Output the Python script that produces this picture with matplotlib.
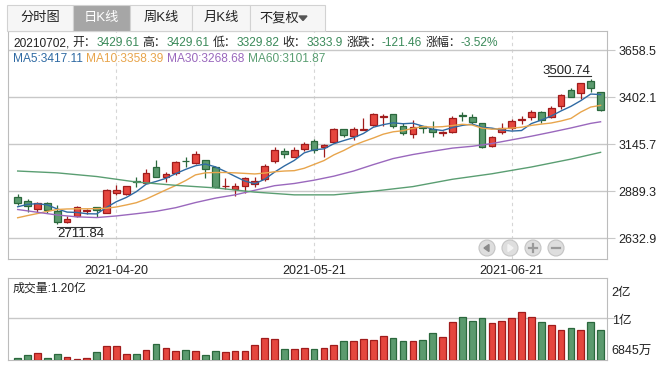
import numpy as np
import matplotlib
matplotlib.use('Agg')
import matplotlib.pyplot as plt
from matplotlib.patches import Rectangle, Circle, Polygon
from matplotlib.transforms import offset_copy

plt.rcParams['font.family'] = ['Liberation Sans', 'Noto Sans CJK SC', 'DejaVu Sans']

# daily K-line, 60 trading days (2021-04-06 .. 2021-07-02)
opens = [2859, 2838, 2791, 2824, 2784, 2720, 2754, 2784, 2802, 2773,
         2882, 2874, 2943, 2936, 3020, 2966, 2988, 3056, 3042, 3060,
         3020, 2918, 2900, 2918, 2928, 2955, 3054, 3109, 3078, 3118,
         3164, 3129, 3157, 3228, 3193, 3224, 3251, 3293, 3309, 3246,
         3200, 3246, 3228, 3209, 3215, 3306, 3296, 3260, 3136, 3211,
         3236, 3280, 3293, 3324, 3293, 3356, 3442, 3424, 3491, 3429.61]
highs = [2874, 2846, 2833, 2831, 2815, 2755, 2809, 2795, 2805, 2902,
         2924, 2921, 2968, 3009, 3060, 2995, 3053, 3078, 3109, 3060,
         3025, 2960, 2933, 2969, 2966, 3037, 3129, 3127, 3129, 3158,
         3173, 3147, 3233, 3231, 3238, 3287, 3315, 3311, 3309, 3260,
         3278, 3246, 3274, 3220, 3298, 3320, 3309, 3260, 3191, 3260,
         3285, 3300, 3333, 3329, 3356, 3420, 3451, 3482, 3500.74, 3429.61]
lows = [2815, 2778, 2778, 2773, 2711.84, 2717, 2751, 2763, 2748, 2769,
        2869, 2869, 2915, 2933, 2966, 2942, 2980, 3023, 3038, 2960,
        2909, 2900, 2864, 2882, 2911, 2946, 3045, 3069, 3075, 3107,
        3097, 3075, 3151, 3184, 3169, 3224, 3247, 3246, 3235, 3196,
        3182, 3206, 3184, 3193, 3207, 3275, 3256, 3124, 3131, 3202,
        3224, 3255, 3278, 3264, 3288, 3340, 3402, 3393, 3433, 3329.82]
closes = [2826, 2809, 2824, 2787, 2720, 2740, 2802, 2787, 2785, 2896,
          2896, 2918, 2940, 2991, 2969, 2984, 3048, 3052, 3091, 3013,
          2911, 2921, 2920, 2960, 2944, 3029, 3115, 3091, 3113, 3147,
          3115, 3140, 3228, 3198, 3228, 3231, 3309, 3300, 3246, 3206,
          3242, 3233, 3211, 3213, 3287, 3302, 3266, 3129, 3186, 3236,
          3273, 3282, 3320, 3278, 3345, 3415, 3405, 3478, 3455.36, 3333.9]
# volume, 亿
volumes = [0.04, 0.11, 0.16, 0.04, 0.135, 0.064, 0.016, 0.04, 0.18, 0.325,
           0.325, 0.135, 0.135, 0.23, 0.373, 0.278, 0.206, 0.23, 0.206, 0.11,
           0.206, 0.18, 0.206, 0.206, 0.349, 0.516, 0.492, 0.254, 0.254, 0.278,
           0.254, 0.278, 0.349, 0.444, 0.444, 0.492, 0.468, 0.564, 0.516, 0.444,
           0.444, 0.468, 0.635, 0.54, 0.897, 1.016, 0.921, 0.992, 0.873, 0.921,
           0.992, 1.135, 1.016, 0.897, 0.825, 0.706, 0.754, 0.706, 0.897, 0.706]

ma5 = [2805, 2818, 2822, 2815, 2793, 2776, 2774, 2767, 2766, 2802,
       2833, 2856, 2887, 2928, 2943, 2960, 2986, 3009, 3029, 3038,
       3023, 2998, 2971, 2945, 2931, 2955, 2994, 3028, 3058, 3099,
       3116, 3121, 3149, 3166, 3182, 3205, 3239, 3253, 3263, 3258,
       3261, 3245, 3228, 3221, 3237, 3249, 3256, 3239, 3234, 3224,
       3218, 3221, 3259, 3278, 3300, 3328, 3353, 3384, 3420, 3417.11]
ma10 = [2745, 2757, 2768, 2780, 2790, 2793, 2794, 2794, 2795, 2797,
        2804, 2815, 2827, 2847, 2872, 2897, 2921, 2948, 2979, 2990,
        2992, 2992, 2990, 2987, 2984, 2989, 2996, 3000, 3002, 3015,
        3036, 3057, 3088, 3112, 3140, 3161, 3180, 3201, 3214, 3220,
        3233, 3242, 3240, 3242, 3248, 3255, 3251, 3234, 3228, 3231,
        3234, 3239, 3249, 3256, 3262, 3273, 3287, 3322, 3349, 3358.39]
ma30_idx = [0, 2, 4, 6, 8, 10, 12, 14, 16, 18, 20, 22, 24, 26, 28, 30,
            32, 34, 36, 38, 40, 42, 44, 46, 48, 50, 52, 54, 56, 58, 59]
ma30 = [2790, 2775, 2760, 2750, 2746, 2755, 2767, 2780, 2800, 2828, 2852,
        2870, 2895, 2920, 2932, 2950, 2972, 3000, 3035, 3068, 3090, 3108,
        3125, 3135, 3150, 3170, 3190, 3212, 3235, 3260, 3268.68]
ma60_idx = [0, 4, 8, 12, 16, 20, 24, 28, 32, 36, 40, 44, 48, 52, 56, 59]
ma60 = [3000, 2990, 2970, 2940, 2922, 2908, 2885, 2870, 2870, 2890, 2915,
        2955, 2985, 3022, 3065, 3101.87]

date_idx = [10, 30, 50]
date_labels = ['2021-04-20', '2021-05-21', '2021-06-21']
price_ticks = [2632.9, 2889.3, 3145.7, 3402.1, 3658.5]
tabs = ['分时图', '日K线', '周K线', '月K线', '不复权']

RED, RED_EDGE = '#e5463e', '#a01c1c'
GREEN, GREEN_EDGE = '#5b9a6e', '#2b683d'
GRID = '#c8c8c8'
SPINE = '#bcbcbc'
INK = '#222222'
VAL_GREEN = '#3b8a5a'
C_MA5, C_MA10, C_MA30, C_MA60 = '#2f6aa3', '#e8a54c', '#9a68bd', '#5a9e72'

W, H = 664, 368
def box(x0, y0, x1, y1):
    return [x0 / W, 1 - y1 / H, (x1 - x0) / W, (y1 - y0) / H]

fig = plt.figure(figsize=(6.64, 3.68), dpi=100)

o = np.array(opens); c = np.array(closes)
hi = np.array(highs); lo = np.array(lows)
x = np.arange(len(o))
up = c >= o
fill = np.where(up, RED, GREEN)
edge = np.where(up, RED_EDGE, GREEN_EDGE)

# ---- price panel
ax = fig.add_axes(box(8, 31, 607, 259))
ax.set_xlim(-0.98, 59.65)
ax.set_ylim(2520, 3764)
ax.vlines(x, lo, hi, colors=edge, lw=0.9, zorder=3)
ax.bar(x, np.maximum(np.abs(c - o), 1.0), bottom=np.minimum(o, c), width=0.68,
       color=fill, edgecolor=edge, lw=0.9, zorder=3)
ax.plot(x, ma5, color=C_MA5, lw=1.0, zorder=4)
ax.plot(x, ma10, color=C_MA10, lw=1.0, zorder=4)
ax.plot(ma30_idx, ma30, color=C_MA30, lw=1.0, zorder=4)
ax.plot(ma60_idx, ma60, color=C_MA60, lw=1.0, zorder=4)
for t in date_idx:
    ax.axvline(t, color='#d6d6d6', lw=0.8, ls=(0, (3, 3)), zorder=1)
ax.set_yticks(price_ticks)
ax.set_yticklabels(['%.1f' % v for v in price_ticks])
ax.yaxis.tick_right()
ax.grid(axis='y', color=GRID, lw=1, zorder=0)
ax.tick_params(axis='y', length=6, color=GRID, pad=2, labelsize=9, labelcolor=INK)
ax.set_xticks(date_idx)
ax.set_xticklabels(date_labels)
ax.tick_params(axis='x', length=0, pad=4, labelsize=9, labelcolor=INK)
for s in ax.spines.values():
    s.set_color(SPINE)

# lowest / highest marks
i_low = int(np.argmin(lo)); i_high = int(np.argmax(hi))
tl = offset_copy(ax.transData, fig=fig, x=0, y=-3.5, units='dots')
ax.plot([i_low, i_low + 4.3], [lo[i_low]] * 2, transform=tl, color='#333333', lw=0.8)
ax.annotate('%.2f' % lo[i_low], (i_low, lo[i_low]), xytext=(0, -4), textcoords='offset pixels',
            ha='left', va='top', fontsize=9.5, color=INK)
th = offset_copy(ax.transData, fig=fig, x=0, y=3.5, units='dots')
ax.plot([i_high - 4.3, i_high], [hi[i_high]] * 2, transform=th, color='#333333', lw=0.8)
ax.annotate('%.2f' % hi[i_high], (i_high, hi[i_high]), xytext=(0, 5), textcoords='offset pixels',
            ha='right', va='baseline', fontsize=9.5, color=INK)

# ---- volume panel
vax = fig.add_axes(box(8, 278, 607, 360))
vax.set_xlim(-0.98, 59.65)
vax.set_ylim(0, 82 / 42)
vax.bar(x, volumes, width=0.68, color=fill, edgecolor=edge, lw=0.9, zorder=3)
vax.set_yticks([1.0])
vax.set_yticklabels([''])
vax.yaxis.tick_right()
vax.grid(axis='y', color=GRID, lw=1, zorder=0)
vax.tick_params(axis='y', length=6, color=GRID)
vax.set_xticks([])
for s in vax.spines.values():
    s.set_color(SPINE)
vax.text(1.008, 0.817, '2亿', transform=vax.transAxes, va='center', fontsize=9, color=INK)
vax.text(1.008, 0.48, '1亿', transform=vax.transAxes, va='center', fontsize=9, color=INK)
vax.text(1.008, 0.098, '6845万', transform=vax.transAxes, va='center', fontsize=9, color=INK)
vax.text(0.008, 0.87, '成交量:%.2f亿' % 1.20, transform=vax.transAxes, va='center',
         fontsize=8.6, color=INK)

# ---- overlay in pixel units: tabs, header, buttons
ov = fig.add_axes([0, 0, 1, 1])
ov.set_xlim(0, W); ov.set_ylim(H, 0)
ov.axis('off'); ov.patch.set_alpha(0)
renderer = fig.canvas.get_renderer()

def text_row(x0, y, parts, size, gap):
    xx = x0
    for txt, col in parts:
        t = ov.text(xx, y, txt, ha='left', va='baseline', fontsize=size, color=col)
        xx += t.get_window_extent(renderer=renderer).width + gap

edges = [7, 73, 130, 192, 250, 325]
for k, name in enumerate(tabs):
    sel = k == 1
    ov.add_patch(Rectangle((edges[k], 5), edges[k + 1] - edges[k], 26,
                           facecolor='#a6a6a6' if sel else '#f6f6f6', edgecolor='#d2d2d2', lw=0.8))
    cx = (edges[k] + edges[k + 1]) / 2 - (8 if k == 4 else 0)
    ov.text(cx, 18, name, ha='center', va='center', fontsize=9.5,
            color='white' if sel else INK)
ov.add_patch(Polygon([[299, 16], [307, 16], [303, 20.5]], closed=True, color='#555555'))

header = [('20210702,', INK), ('开：', INK), ('3429.61', VAL_GREEN),
          ('高：', INK), ('3429.61', VAL_GREEN), ('低：', INK), ('3329.82', VAL_GREEN),
          ('收：', INK), ('3333.9', VAL_GREEN), ('涨跌：', INK), ('-121.46', VAL_GREEN),
          ('涨幅：', INK), ('-3.52%', VAL_GREEN)]
gaps = [3.3, 0, 3.3]
xx = 13
for k, (txt, col) in enumerate(header):
    t = ov.text(xx, 46, txt, ha='left', va='baseline', fontsize=8.6, color=col)
    w = t.get_window_extent(renderer=renderer).width
    xx += w + (0 if txt.endswith('：') else 3.3)

text_row(13, 62, [('MA5:3417.11', C_MA5), ('MA10:3358.39', C_MA10),
                  ('MA30:3268.68', C_MA30), ('MA60:3101.87', C_MA60)], 8.6, 3.5)

# navigation buttons
for bx, sym in zip([487, 510, 533, 556], ['<', '>', '+', '-']):
    ov.add_patch(Circle((bx, 248), 8, facecolor='#dedede', edgecolor='#c4c4c4', lw=0.8))
    if sym == '<':
        ov.add_patch(Polygon([[bx - 3, 248], [bx + 2, 244.5], [bx + 2, 251.5]], color='#8a8a8a'))
    elif sym == '>':
        ov.add_patch(Polygon([[bx + 3, 248], [bx - 2, 244.5], [bx - 2, 251.5]], color='#f4f4f4'))
    elif sym == '+':
        ov.plot([bx - 4, bx + 4], [248, 248], color='#9a9a9a', lw=1.6)
        ov.plot([bx, bx], [244, 252], color='#9a9a9a', lw=1.6)
    else:
        ov.plot([bx - 4, bx + 4], [248, 248], color='#9a9a9a', lw=1.6)

fig.savefig('out.png', dpi=100)
